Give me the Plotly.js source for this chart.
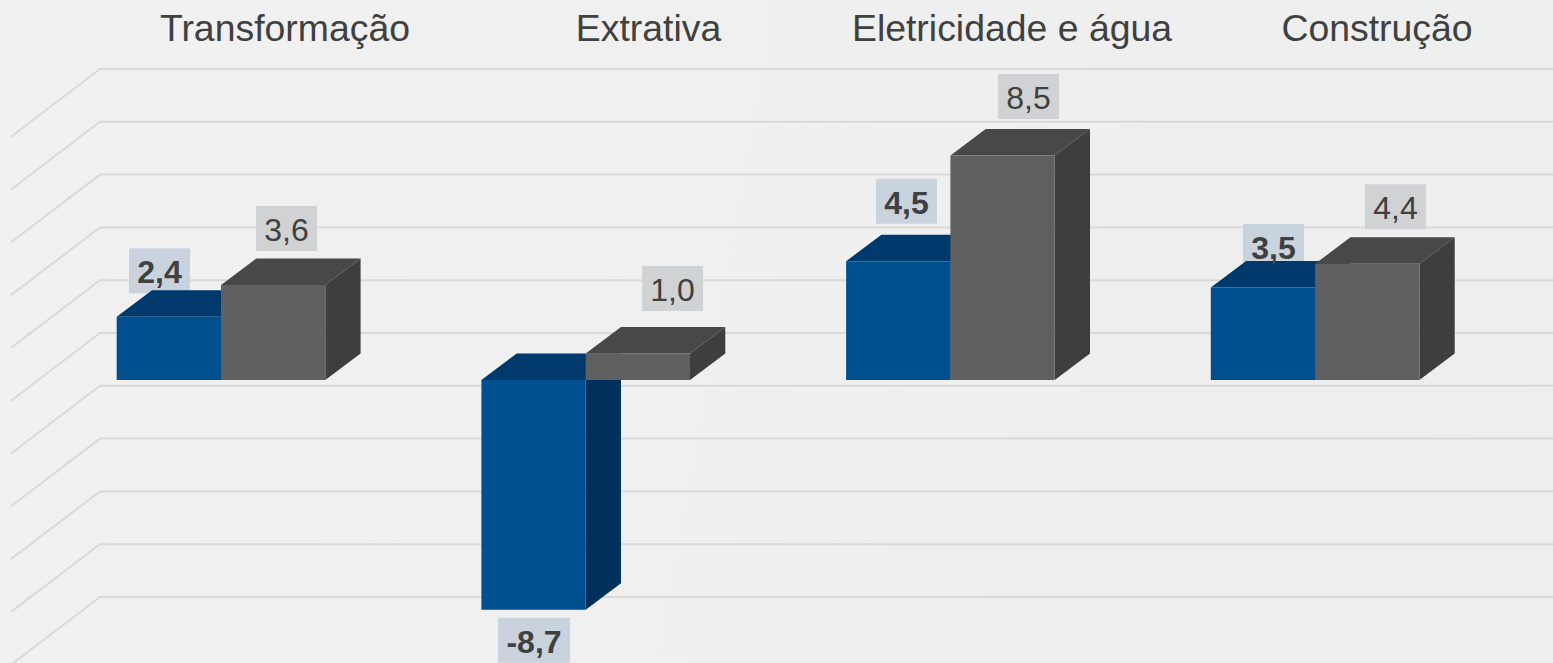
<!DOCTYPE html>
<html><head><meta charset="utf-8">
<script src="https://cdn.plot.ly/plotly-3.0.1.min.js"></script>
<style>html,body{margin:0;padding:0;overflow:hidden;background:linear-gradient(100deg,#f1f1f2 0%,#efefef 55%,#edeeee 100%)}#chart{width:1553px;height:663px}</style>
</head><body><div id="chart"></div>
<script>
const categories = ['Transformação','Extrativa','Eletricidade e água','Construção'];
const blueValues = [2.4,-8.7,4.5,3.5];
const grayValues = [3.6,1.0,8.5,4.4];
const gridValues = [10,8,6,4,2,0,-2,-4,-6,-8,-10];

// layout constants
const W=1553,H=663,mTop=49;
const pxX=364.7, pxY=26.4, x0px=221, y0px=380;
const xr=[(0-x0px)/pxX,(W-x0px)/pxX];
const yr=[(y0px-H)/pxY,(y0px-mTop)/pxY];
const bw=104.3/pxX, dX=35.3/pxX, dY=26.5/pxY;
const wallDY=47/pxY, floorDY=67.7/pxY, wallX=(100-x0px)/pxX, floorX=(11-x0px)/pxX;
const titleShift=[64,62.8,61.6,61.9].map(v=>v/pxX);
const boxH=45/pxY, textDrop=4.5/pxY;
const boxWidth=t=>(t.length>3?72:61)/pxX;
const blueBoxDx=[-9.35,0.45,8.25,10.55].map(v=>v/pxX);
const blueBoxDy=[-3,8,11,-8].map(v=>v/pxY);
const grayBoxDx=[13.35,34.65,25.95,28.25].map(v=>v/pxX);
const grayBoxDy=[7.5,16,10,8].map(v=>v/pxY);
const fmt=v=>v.toFixed(1).replace('.',',');

function poly(pts,color,z){
  const xs=[],ys=[];
  pts.forEach(p=>{p.forEach(q=>{xs.push(q[0]);ys.push(q[1]);});xs.push(null);ys.push(null);});
  return {type:'scatter',mode:'lines',x:xs,y:ys,fill:'toself',fillcolor:color,line:{width:0,color:color},hoverinfo:'skip',showlegend:false,zorder:z};
}
function topFace(xL,v){const t=Math.max(v,0);return [[xL,t],[xL+dX,t+dY],[xL+bw+dX,t+dY],[xL+bw,t],[xL,t]];}
function sideFace(xL,v){const t=Math.max(v,0),b=Math.min(v,0),xR=xL+bw;return [[xR,t],[xR+dX,t+dY],[xR+dX,b+dY],[xR,b],[xR,t]];}

// grid lines: floor diagonal + back wall
const gx=[],gy=[];
gridValues.forEach(v=>{
  const y=v+wallDY;
  gx.push(floorX, wallX, xr[1], null);
  gy.push(y-floorDY, y, y, null);
});
const gridTrace={type:'scatter',mode:'lines',x:gx,y:gy,line:{color:'#d9d9d9',width:2},hoverinfo:'skip',showlegend:false,zorder:0};

const idx=categories.map((_,i)=>i);
function boxes(vals,side,dxs,dys,col){
  return poly(vals.map((v,i)=>{
    const cx=i+(side<0?-bw/2:bw/2)+dxs[i], hw=boxWidth(fmt(v))/2;
    const yb=v<0 ? v-dys[i]-boxH : v+dY+dys[i];
    return [[cx-hw,yb],[cx+hw,yb],[cx+hw,yb+boxH],[cx-hw,yb+boxH],[cx-hw,yb]];
  }),col,1);
}
function labels(vals,side,dxs,dys,weight){
  return {type:'scatter',mode:'text',cliponaxis:false,
    x:vals.map((v,i)=>i+(side<0?-bw/2:bw/2)+dxs[i]),
    y:vals.map((v,i)=>(v<0? v-dys[i]-boxH/2 : v+dY+dys[i]+boxH/2)-textDrop),
    text:vals.map(fmt),textposition:'middle center',
    textfont:{family:'"Liberation Sans",Arial,sans-serif',size:32,color:'#404040',weight:weight},
    hoverinfo:'skip',showlegend:false,zorder:7};
}
const data=[
  gridTrace,
  boxes(blueValues,-1,blueBoxDx,blueBoxDy,'#c9d3de'),
  boxes(grayValues,1,grayBoxDx,grayBoxDy,'#d1d2d3'),
  poly(blueValues.map((v,i)=>topFace(i-bw,v)),'#00396b',2),
  poly(blueValues.map((v,i)=>sideFace(i-bw,v)),'#00305c',2),
  {type:'bar',name:'Azul',x:idx,y:blueValues,width:bw,offset:-bw,marker:{color:'#00508f',line:{width:0}},hoverinfo:'skip',showlegend:false,zorder:3},
  poly(grayValues.map((v,i)=>topFace(i,v)),'#484848',4),
  poly(grayValues.map((v,i)=>sideFace(i,v)),'#3e3e3e',4),
  {type:'bar',name:'Cinza',x:idx,y:grayValues,width:bw,offset:0,marker:{color:'#606060',line:{width:0}},hoverinfo:'skip',showlegend:false,zorder:5},
  labels(blueValues,-1,blueBoxDx,blueBoxDy,700),
  labels(grayValues,1,grayBoxDx,grayBoxDy,400)
];
const layout={
  width:W,height:H,paper_bgcolor:'rgba(0,0,0,0)',plot_bgcolor:'rgba(0,0,0,0)',
  margin:{l:0,r:0,t:mTop,b:0,pad:0},showlegend:false,barmode:'overlay',hovermode:false,
  xaxis:{type:'linear',range:xr,side:'top',showgrid:false,zeroline:false,showline:false,ticks:'',
    tickmode:'array',tickvals:idx.map(i=>i+titleShift[i]),ticktext:categories,automargin:false,
    tickfont:{family:'"Liberation Sans",Arial,sans-serif',size:37.4,color:'#404040'}},
  yaxis:{range:yr,showgrid:false,zeroline:false,showline:false,showticklabels:false,ticks:'',automargin:false}
};
Plotly.newPlot('chart',data,layout,{displayModeBar:false,staticPlot:true});
</script></body></html>
